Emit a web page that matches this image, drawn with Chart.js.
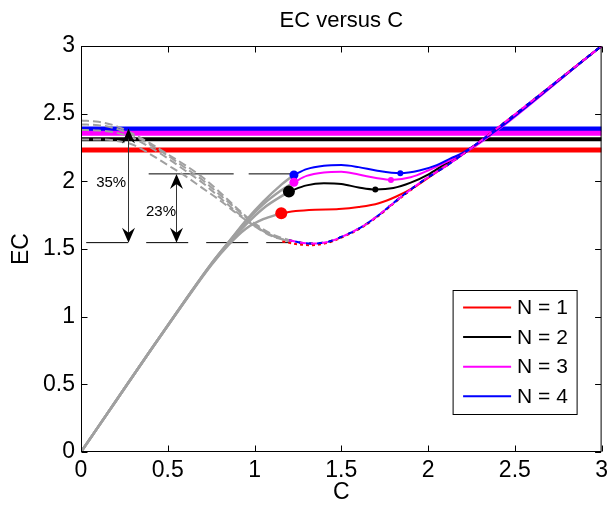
<!DOCTYPE html>
<html>
<head>
<meta charset="utf-8">
<script src="https://cdn.jsdelivr.net/npm/chart.js@4.4.0/dist/chart.umd.min.js"></script>
<style>
  html, body { margin: 0; padding: 0; background: #fff; }
</style>
</head>
<body>
<canvas id="ecChart" width="613" height="506"></canvas>
<script>
const FONT = "'Liberation Sans', Arial, Helvetica, sans-serif";

// axis ticks (both axes)
const tickValues = [0, 0.5, 1, 1.5, 2, 2.5, 3];
const tickLabels = ['0', '0.5', '1', '1.5', '2', '2.5', '3'];

// title and legend
const chartTitle = 'EC versus C';
const legendLabels = ['N = 1', 'N = 2', 'N = 3', 'N = 4'];
const colors = ['#ff0000', '#000000', '#ff00ff', '#0000ff'];

// horizontal levels, N = 1..4
const levelEC = [2.232, 2.311, 2.355, 2.387];

// gray solid branch from the origin (one per N)
const riseC1 = [0, 0.2, 0.4, 0.6, 0.75, 0.85, 0.95, 1.05, 1.154];
const riseEC1 = [0, 0.375, 0.75, 1.115, 1.38, 1.53, 1.65, 1.72, 1.764];
const riseC2 = [0, 0.2, 0.4, 0.6, 0.75, 0.85, 0.95, 1.05, 1.198];
const riseEC2 = [0, 0.375, 0.75, 1.12, 1.385, 1.54, 1.68, 1.80, 1.924];
const riseC3 = [0, 0.2, 0.4, 0.6, 0.75, 0.85, 0.95, 1.05, 1.15, 1.227];
const riseEC3 = [0, 0.375, 0.75, 1.12, 1.39, 1.55, 1.70, 1.83, 1.93, 1.993];
const riseC4 = [0, 0.2, 0.4, 0.6, 0.75, 0.85, 0.95, 1.05, 1.15, 1.227];
const riseEC4 = [0, 0.375, 0.75, 1.12, 1.39, 1.55, 1.71, 1.85, 1.97, 2.047];

// gray dashed branch falling from ~2.4
const fallC = [0, 0.1, 0.2, 0.3, 0.4, 0.5, 0.6, 0.7, 0.8, 0.9, 1.0, 1.1, 1.2];
const fallEC1 = [2.31, 2.31, 2.30, 2.27, 2.20, 2.12, 2.04, 1.95, 1.86, 1.76, 1.67, 1.60, 1.555];
const fallEC2 = [2.38, 2.375, 2.36, 2.32, 2.25, 2.17, 2.08, 1.99, 1.88, 1.77, 1.67, 1.595, 1.56];
const fallEC3 = [2.42, 2.415, 2.39, 2.34, 2.27, 2.19, 2.10, 2.01, 1.90, 1.79, 1.68, 1.60, 1.56];
const fallEC4 = [2.45, 2.44, 2.41, 2.35, 2.28, 2.20, 2.12, 2.03, 1.92, 1.80, 1.69, 1.61, 1.565];

// coloured solid branch (stable), from the big marker up to (3,3)
const upC1 = [1.154, 1.237, 1.35, 1.486, 1.6, 1.716, 1.82, 1.926, 2.04, 2.13, 2.2, 3];
const upEC1 = [1.764, 1.78, 1.79, 1.795, 1.81, 1.838, 1.89, 1.961, 2.06, 2.14, 2.2, 3];
const upC2 = [1.198, 1.3, 1.4, 1.5, 1.6, 1.696, 1.8, 1.9, 2.0, 2.1, 2.2, 3];
const upEC2 = [1.924, 1.97, 1.985, 1.98, 1.955, 1.94, 1.95, 1.99, 2.05, 2.13, 2.2, 3];
const upC3 = [1.227, 1.3, 1.4, 1.5, 1.6, 1.7, 1.786, 1.9, 2.0, 2.1, 2.2, 3];
const upEC3 = [1.993, 2.04, 2.065, 2.07, 2.05, 2.025, 2.01, 2.03, 2.08, 2.14, 2.2, 3];
const upC4 = [1.227, 1.3, 1.4, 1.5, 1.6, 1.7, 1.84, 1.95, 2.05, 2.13, 2.2, 3];
const upEC4 = [2.047, 2.09, 2.115, 2.12, 2.105, 2.08, 2.06, 2.08, 2.12, 2.17, 2.21, 3];

// coloured dashed branch (unstable), dipping to ~1.54
const downC = [1.2, 1.26, 1.33, 1.42, 1.52, 1.62, 1.72, 1.81, 1.9, 2.0, 2.1, 2.2, 3];
const downEC = [1.565, 1.548, 1.54, 1.552, 1.6, 1.665, 1.755, 1.85, 1.94, 2.03, 2.11, 2.2, 3];
const downC1 = [1.16, 1.25, 1.32, 1.42, 1.52, 1.62, 1.72, 1.81, 1.9, 2.0, 2.1, 2.2, 3];
const downEC1 = [1.556, 1.535, 1.528, 1.545, 1.595, 1.66, 1.75, 1.845, 1.935, 2.03, 2.11, 2.2, 3];

// markers
const bigC = [1.154, 1.198, 1.227, 1.227];
const bigEC = [1.764, 1.924, 1.993, 2.047];
const smallC = [1.696, 1.786, 1.84];
const smallEC = [1.94, 2.01, 2.06];

// annotation: reference levels, arrows and percentages
const refLowEC = 1.547, refMidEC = 2.055;
const refLowC = [0.03, 1.2];
const refMidC = [0.39, 1.22];
const arrowC = [0.273, 0.55];
const arrowTopEC = [2.39, 2.055];
const pctLabels = ['35%', '23%'];
const pctC = [0.174, 0.461];
const pctEC = [1.986, 1.772];

const pts = (cs, ecs) => cs.map((c, i) => ({ x: c, y: ecs[i] }));
const GRAY = '#a0a0a0';

function line(data, color, width, dash, extra) {
  return Object.assign({
    data: data, borderColor: color, backgroundColor: color, borderWidth: width,
    borderDash: dash || [], showLine: true, pointRadius: 0, pointHoverRadius: 0,
    cubicInterpolationMode: 'monotone'
  }, extra || {});
}

const datasets = [];
// markers on top
bigC.forEach((c, i) => {
  datasets.push(line([{ x: c, y: bigEC[i] }], colors[i], 0, [], {
    showLine: false, pointRadius: i < 2 ? 6 : 4.5, pointBorderWidth: 0
  }));
});
smallC.forEach((c, i) => {
  datasets.push(line([{ x: c, y: smallEC[i] }], colors[i + 1], 0, [], {
    showLine: false, pointRadius: 3, pointBorderWidth: 0
  }));
});
// dashed coloured branches
datasets.push(line(pts(downC, downEC), colors[2], 2, [6, 5]));
datasets.push(line(pts(downC, downEC), colors[3], 2, [6, 5], { borderDashOffset: 5 }));
datasets.push(line(pts(downC, downEC), colors[1], 2, [4, 6]));
datasets.push(line(pts(downC1, downEC1), colors[0], 2, [3, 3]));
// solid coloured branches
datasets.push(line(pts(upC4, upEC4), colors[3], 2));
datasets.push(line(pts(upC3, upEC3), colors[2], 2));
datasets.push(line(pts(upC2, upEC2), colors[1], 2));
datasets.push(line(pts(upC1, upEC1), colors[0], 2));
// gray branches
[[riseC1, riseEC1], [riseC2, riseEC2], [riseC3, riseEC3], [riseC4, riseEC4]].forEach(r => {
  datasets.push(line(pts(r[0], r[1]), GRAY, 2.5));
});
[fallEC1, fallEC2, fallEC3, fallEC4].forEach(f => {
  datasets.push(line(pts(fallC, f), GRAY, 2, [8, 4]));
});
// horizontal levels
levelEC.forEach((v, i) => {
  datasets.push(line([{ x: 0, y: v }, { x: 3, y: v }], colors[i], i === 1 ? 4 : 5));
});
// reference dashed lines
datasets.push(line(pts(refLowC, [refLowEC, refLowEC]), '#000', 1, [42, 18]));
datasets.push(line(pts(refMidC, [refMidEC, refMidEC]), '#000', 1, [85, 15]));

function arrowHead(ctx, x, y, dir) {
  // dir = -1 points up, +1 points down
  const L = 15, W = 6.5, B = 10;
  ctx.beginPath();
  ctx.moveTo(x, y);
  ctx.lineTo(x - W, y - dir * L);
  ctx.lineTo(x, y - dir * B);
  ctx.lineTo(x + W, y - dir * L);
  ctx.closePath();
  ctx.fill();
}

const decorPlugin = {
  id: 'decor',
  afterDraw(chart) {
    const ctx = chart.ctx;
    const xs = chart.scales.x, ys = chart.scales.y;
    const a = chart.chartArea;
    ctx.save();
    // title, centred over the axes
    ctx.fillStyle = '#000';
    ctx.font = '22px ' + FONT;
    ctx.textAlign = 'center';
    ctx.textBaseline = 'middle';
    ctx.fillText(chartTitle, (a.left + a.right) / 2, a.top - 25);
    // arrows
    ctx.strokeStyle = '#333';
    ctx.lineWidth = 1;
    arrowC.forEach((c, i) => {
      const x = Math.round(xs.getPixelForValue(c)) + 0.5;
      const y1 = ys.getPixelForValue(arrowTopEC[i]);
      const y2 = ys.getPixelForValue(refLowEC);
      ctx.beginPath();
      ctx.moveTo(x, y1 + 6);
      ctx.lineTo(x, y2 - 6);
      ctx.stroke();
      arrowHead(ctx, x, y1, -1);
      arrowHead(ctx, x, y2, 1);
    });
    ctx.font = '15px ' + FONT;
    pctLabels.forEach((t, i) => {
      ctx.fillText(t, xs.getPixelForValue(pctC[i]), ys.getPixelForValue(pctEC[i]));
    });
    // box and inward ticks
    ctx.strokeStyle = '#000';
    ctx.lineWidth = 1;
    const L = a.left + 0.5, R = a.right - 0.5, T = a.top + 0.5, Bt = a.bottom - 0.5;
    ctx.strokeRect(L, T, R - L, Bt - T);
    const tk = 6;
    ctx.beginPath();
    tickValues.forEach(v => {
      const x = Math.round(xs.getPixelForValue(v)) + 0.5;
      ctx.moveTo(x, Bt); ctx.lineTo(x, Bt - tk);
      ctx.moveTo(x, T); ctx.lineTo(x, T + tk);
      const y = Math.round(ys.getPixelForValue(v)) + 0.5;
      ctx.moveTo(L, y); ctx.lineTo(L + tk, y);
      ctx.moveTo(R, y); ctx.lineTo(R - tk, y);
    });
    ctx.stroke();
    // legend
    const bx = a.right - 148.5, by = a.bottom - 161.5, bw = 124, bh = 124;
    ctx.fillStyle = '#fff';
    ctx.fillRect(bx, by, bw, bh);
    ctx.strokeRect(bx, by, bw, bh);
    ctx.font = '21px ' + FONT;
    ctx.textAlign = 'left';
    legendLabels.forEach((t, i) => {
      const y = by + 17 + i * 29.6;
      ctx.strokeStyle = colors[i];
      ctx.lineWidth = 2;
      ctx.beginPath();
      ctx.moveTo(bx + 10, y); ctx.lineTo(bx + 58, y);
      ctx.stroke();
      ctx.fillStyle = '#000';
      ctx.fillText(t, bx + 64, y + 1);
    });
    ctx.restore();
  }
};

const axisBase = (title, fit) => ({
  type: 'linear', min: 0, max: 3,
  afterBuildTicks: s => { s.ticks = tickValues.map(v => ({ value: v })); },
  afterFit: fit,
  grid: { display: false, drawTicks: false },
  border: { display: false },
  ticks: {
    color: '#000', font: { family: FONT, size: 23 }, padding: 6, maxRotation: 0,
    callback: (v, i) => tickLabels[i]
  },
  title: { display: true, text: title, color: '#000', font: { family: FONT, size: 23 } }
});

const xAxis = axisBase('C', s => { s.height = 54; });
xAxis.position = 'bottom';
xAxis.ticks.padding = 5;
xAxis.title.padding = { top: 0, bottom: 0 };
const yAxis = axisBase('EC', s => { s.width = 81; });
yAxis.position = 'left';
yAxis.title.padding = { top: 8, bottom: 0 };

new Chart(document.getElementById('ecChart'), {
  type: 'scatter',
  data: { datasets: datasets },
  options: {
    responsive: false,
    animation: false,
    devicePixelRatio: 1,
    layout: { padding: { left: 0, right: 10, top: 46, bottom: 0 } },
    scales: { x: xAxis, y: yAxis },
    plugins: {
      legend: { display: false },
      tooltip: { enabled: false },
      title: { display: false }
    }
  },
  plugins: [decorPlugin]
});
</script>
</body>
</html>
